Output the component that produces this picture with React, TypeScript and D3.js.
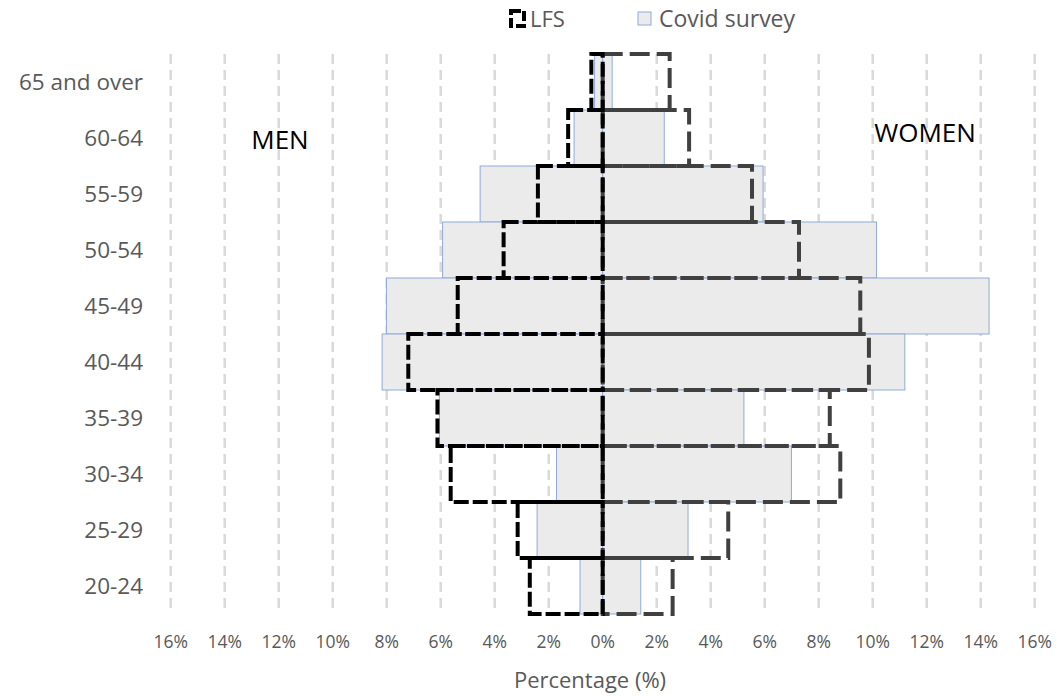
import React from "react";
import * as d3 from "d3";

const categories = ["65 and over", "60-64", "55-59", "50-54", "45-49", "40-44", "35-39", "30-34", "25-29", "20-24"];
const covidMen = [0.3, 1.06, 4.54, 5.93, 8.01, 8.17, 6.05, 1.71, 2.43, 0.84];
const covidWomen = [0.35, 2.28, 5.94, 10.14, 14.31, 11.19, 5.23, 6.99, 3.16, 1.41];
const lfsMen = [0.42, 1.28, 2.4, 3.67, 5.37, 7.2, 6.12, 5.63, 3.15, 2.7];
const lfsWomen = [2.48, 3.2, 5.53, 7.27, 9.54, 9.86, 8.41, 8.8, 4.65, 2.59];
const ticks = [-16, -14, -12, -10, -8, -6, -4, -2, 0, 2, 4, 6, 8, 10, 12, 14, 16];

const W = 1057;
const H = 696;
const FONT = "'Open Sans', 'Noto Sans', sans-serif";

export default function App() {
  const x = d3.scaleLinear().domain([-16, 16]).range([170.7, 1034.7]);
  const y = d3.scaleBand<string>().domain(categories).range([54, 614]).padding(0);
  const bw = y.bandwidth();

  return (
    <svg width={W} height={H} style={{ position: "absolute", left: 0, top: 0, background: "#fff" }}>
      {/* gridlines */}
      {ticks.map((t) => (
        <line key={"g" + t} x1={x(t)} x2={x(t)} y1={54} y2={614} stroke="#d9d9d9" strokeWidth={2.5} strokeDasharray="10 6" />
      ))}
      {/* covid bars */}
      {categories.map((c, i) => (
        <g key={"c" + c}>
          <rect x={x(-covidMen[i])} y={y(c)!} width={x(0) - x(-covidMen[i])} height={bw} fill="#ebebeb" stroke="#8faadc" strokeWidth={1} />
          <rect x={x(0)} y={y(c)!} width={x(covidWomen[i]) - x(0)} height={bw} fill="#ebebeb" stroke="#8faadc" strokeWidth={1} />
        </g>
      ))}
      {/* LFS bars */}
      {categories.map((c, i) => (
        <rect key={"lw" + c} x={x(0)} y={y(c)!} width={x(lfsWomen[i]) - x(0)} height={bw} fill="none" stroke="#404040" strokeWidth={4} strokeDasharray="20 7" />
      ))}
      {categories.map((c, i) => (
        <rect key={"lm" + c} x={x(-lfsMen[i])} y={y(c)!} width={x(0) - x(-lfsMen[i])} height={bw} fill="none" stroke="#000" strokeWidth={4} strokeDasharray="15 4" />
      ))}
      {/* category labels */}
      {categories.map((c) => (
        <text key={"t" + c} x={143} y={y(c)! + bw / 2} dy="0.35em" textAnchor="end" fontFamily={FONT} fontSize={22.5} fill="#595959">
          {c}
        </text>
      ))}
      {/* tick labels */}
      {ticks.map((t) => (
        <text key={"tl" + t} x={x(t)} y={642} dy="0.35em" textAnchor="middle" fontFamily={FONT} fontSize={17.5} fill="#595959">
          {Math.abs(t) + "%"}
        </text>
      ))}
      <text x={590} y={680} dy="0.35em" textAnchor="middle" fontFamily={FONT} fontSize={22} fill="#595959">
        Percentage (%)
      </text>
      <text x={280} y={140} dy="0.35em" textAnchor="middle" fontFamily={FONT} fontSize={26} fill="#000">
        MEN
      </text>
      <text x={925} y={133} dy="0.35em" textAnchor="middle" fontFamily={FONT} fontSize={26} fill="#000">
        WOMEN
      </text>
      {/* legend */}
      <rect x={511} y={11} width={13} height={15} fill="none" stroke="#000" strokeWidth={4} strokeDasharray="10 3" />
      <text x={530} y={19} dy="0.35em" fontFamily={FONT} fontSize={22} fill="#595959">LFS</text>
      <rect x={638} y={12} width={13} height={13} fill="#ebebeb" stroke="#8faadc" strokeWidth={1} />
      <text x={659} y={19} dy="0.35em" fontFamily={FONT} fontSize={23} fill="#595959">Covid survey</text>
    </svg>
  );
}
